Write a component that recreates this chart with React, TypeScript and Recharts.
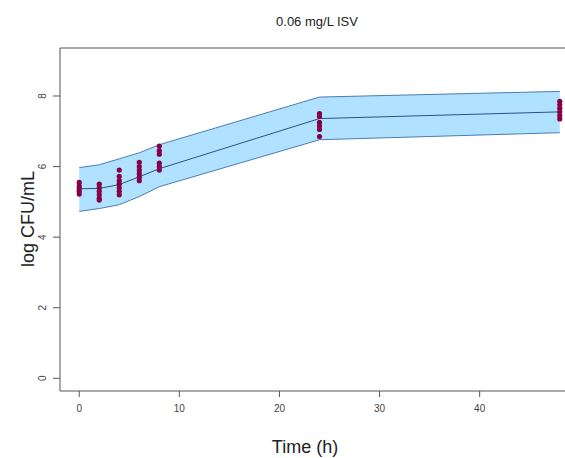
import React from 'react';
import {
  ComposedChart,
  Area,
  Line,
  Scatter,
  XAxis,
  YAxis,
  ReferenceArea,
} from 'recharts';

// prediction interval (time, lower, median, upper)
const times = [0, 2, 4, 6, 8, 24, 48];
const lower = [4.73, 4.81, 4.92, 5.15, 5.43, 6.76, 6.96];
const median = [5.37, 5.38, 5.49, 5.71, 5.94, 7.36, 7.55];
const upper = [5.97, 6.05, 6.22, 6.39, 6.62, 7.97, 8.13];

// observed log CFU/mL
const obsTimes = [
  0, 0, 0, 0, 0,
  2, 2, 2, 2, 2, 2,
  4, 4, 4, 4, 4, 4, 4,
  6, 6, 6, 6, 6, 6,
  8, 8, 8, 8, 8, 8,
  24, 24, 24, 24, 24, 24,
  48, 48, 48, 48, 48, 48,
];
const obsValues = [
  5.55, 5.45, 5.38, 5.3, 5.22,
  5.5, 5.4, 5.3, 5.2, 5.1, 5.05,
  5.9, 5.72, 5.6, 5.5, 5.4, 5.3, 5.2,
  6.12, 6.0, 5.9, 5.8, 5.7, 5.6,
  6.58, 6.45, 6.35, 6.1, 6.0, 5.9,
  7.5, 7.42, 7.25, 7.15, 7.05, 6.85,
  7.85, 7.75, 7.65, 7.55, 7.45, 7.35,
];

const xTicks = [0, 10, 20, 30, 40];
const yTicks = [0, 2, 4, 6, 8];

const bandData = times.map((t, i) => ({
  time: t,
  range: [lower[i], upper[i]],
  lo: lower[i],
  mid: median[i],
  hi: upper[i],
}));
const obsData = obsTimes.map((t, i) => ({ time: t, value: obsValues[i] }));

const FONT = '"Liberation Sans", Arial, sans-serif';
const X_DOMAIN: [number, number] = [-1.92, 49.92];
const Y_DOMAIN: [number, number] = [-0.36, 9.36];

const YTick = (props: any) => {
  const { y, payload } = props;
  return (
    <text
      x={43}
      y={y}
      transform={`rotate(-90, 43, ${y})`}
      textAnchor="middle"
      dominantBaseline="central"
      fontSize={10}
      fontFamily={FONT}
      fill="#444"
    >
      {payload.value}
    </text>
  );
};

export default function App() {
  return (
    <div
      style={{
        position: 'absolute',
        left: 0,
        top: 0,
        width: 565,
        height: 458,
        overflow: 'hidden',
        background: '#fff',
        fontFamily: FONT,
      }}
    >
      <ComposedChart
        width={590}
        height={458}
        data={bandData}
        margin={{ top: 48, right: 11, bottom: 0, left: 0 }}
      >
        <XAxis
          dataKey="time"
          type="number"
          domain={X_DOMAIN}
          ticks={xTicks}
          allowDataOverflow
          axisLine={false}
          tickLine={{ stroke: '#555' }}
          tickSize={6}
          tickMargin={8}
          height={67}
          tick={{ fontSize: 10, fill: '#444', fontFamily: FONT }}
        />
        <YAxis
          type="number"
          domain={Y_DOMAIN}
          ticks={yTicks}
          allowDataOverflow
          axisLine={false}
          tickLine={{ stroke: '#555' }}
          tickSize={7}
          width={60}
          tick={<YTick />}
        />
        <ReferenceArea
          x1={X_DOMAIN[0]}
          x2={X_DOMAIN[1]}
          y1={Y_DOMAIN[0]}
          y2={Y_DOMAIN[1]}
          fill="#fff"
          fillOpacity={0}
          stroke="#555"
          strokeWidth={1}
        />
        <Area
          dataKey="range"
          type="linear"
          fill="#B0E2FF"
          fillOpacity={1}
          stroke="none"
          isAnimationActive={false}
        />
        <Line dataKey="lo" type="linear" stroke="#4A7DB3" strokeWidth={1} dot={false} isAnimationActive={false} />
        <Line dataKey="hi" type="linear" stroke="#4A7DB3" strokeWidth={1} dot={false} isAnimationActive={false} />
        <Line dataKey="mid" type="linear" stroke="#2C5088" strokeWidth={1} dot={false} isAnimationActive={false} />
        <Scatter
          data={obsData}
          dataKey="value"
          fill="#850045"
          isAnimationActive={false}
          shape={(p: any) => <circle cx={p.cx} cy={p.cy} r={2.6} fill="#850045" />}
        />
      </ComposedChart>
      <div
        style={{
          position: 'absolute',
          left: 217,
          width: 200,
          top: 14,
          textAlign: 'center',
          fontSize: 13,
          color: '#222',
        }}
      >
        0.06 mg/L ISV
      </div>
      <div
        style={{
          position: 'absolute',
          left: 205,
          width: 200,
          top: 437,
          textAlign: 'center',
          fontSize: 18,
          color: '#222',
        }}
      >
        Time (h)
      </div>
      <div
        style={{
          position: 'absolute',
          left: 28 - 100,
          top: 219 - 11,
          width: 200,
          height: 22,
          lineHeight: '22px',
          textAlign: 'center',
          fontSize: 18,
          color: '#222',
          transform: 'rotate(-90deg)',
        }}
      >
        log CFU/mL
      </div>
    </div>
  );
}
